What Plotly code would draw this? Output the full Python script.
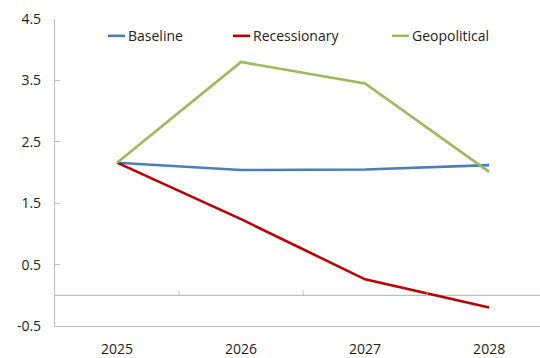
import plotly.graph_objects as go

years = ["2025", "2026", "2027", "2028"]
baseline = [2.16, 2.04, 2.05, 2.12]
recessionary = [2.16, 1.24, 0.26, -0.20]
geopolitical = [2.16, 3.80, 3.45, 2.01]
y_ticks = [-0.5, 0.5, 1.5, 2.5, 3.5, 4.5]

names = ["Baseline", "Recessionary", "Geopolitical"]
colors = ["#4A7EBB", "#C00000", "#9BBB59"]
series = [baseline, recessionary, geopolitical]

xi = list(range(len(years)))
FONT = "Open Sans"

fig = go.Figure()
for name, vals, col in zip(names, series, colors):
    fig.add_trace(go.Scatter(x=xi, y=vals, mode="lines", name=name,
                             line=dict(color=col, width=2.6), showlegend=False))

shapes = []
# zero line tick marks between categories
for b in [0.5, 1.5, 2.5]:
    shapes.append(dict(type="line", xref="x", yref="y", x0=b, x1=b, y0=0, y1=0.08,
                       line=dict(color="#BFBFBF", width=1)))
shapes.append(dict(type="line", xref="paper", yref="y", x0=0, x1=1, y0=0, y1=0,
                   line=dict(color="#BFBFBF", width=1.2), layer="below"))

# manual legend
leg_x = [108, 233, 392]
annotations = []
W = 540
for name, col, lx in zip(names, colors, leg_x):
    shapes.append(dict(type="line", xref="paper", yref="paper",
                       x0=(lx - 55) / (W - 55), x1=(lx + 17 - 55) / (W - 55),
                       y0=(329 - 36) / 310, y1=(329 - 36) / 310,
                       line=dict(color=col, width=2.6)))
    annotations.append(dict(text=name, xref="paper", yref="paper",
                            x=(lx + 18 - 55) / (W - 55), y=(329 - 36) / 310,
                            xanchor="left", yanchor="middle", showarrow=False,
                            font=dict(family=FONT, size=14, color="#222222")))

fig.update_layout(
    width=540, height=358,
    margin=dict(l=55, r=0, t=19, b=29),
    paper_bgcolor="white", plot_bgcolor="white",
    font=dict(family=FONT, size=14, color="#222222"),
    shapes=shapes, annotations=annotations,
    xaxis=dict(range=[-0.5, 3.41], tickmode="array", tickvals=xi, ticktext=years,
               showgrid=False, zeroline=False, showline=True, linecolor="#BFBFBF",
               linewidth=1.2, ticks="", ticklabelstandoff=10,
               tickfont=dict(family=FONT, size=14, color="#222222")),
    yaxis=dict(range=[-0.5, 4.5], tickmode="array", tickvals=y_ticks,
               ticktext=[str(v) for v in y_ticks],
               showgrid=False, zeroline=False, showline=True, linecolor="#BFBFBF",
               linewidth=1.2, ticks="inside", ticklen=5, tickcolor="#BFBFBF",
               ticklabelstandoff=10,
               tickfont=dict(family=FONT, size=14, color="#222222")),
)

fig.write_html("out.html")
